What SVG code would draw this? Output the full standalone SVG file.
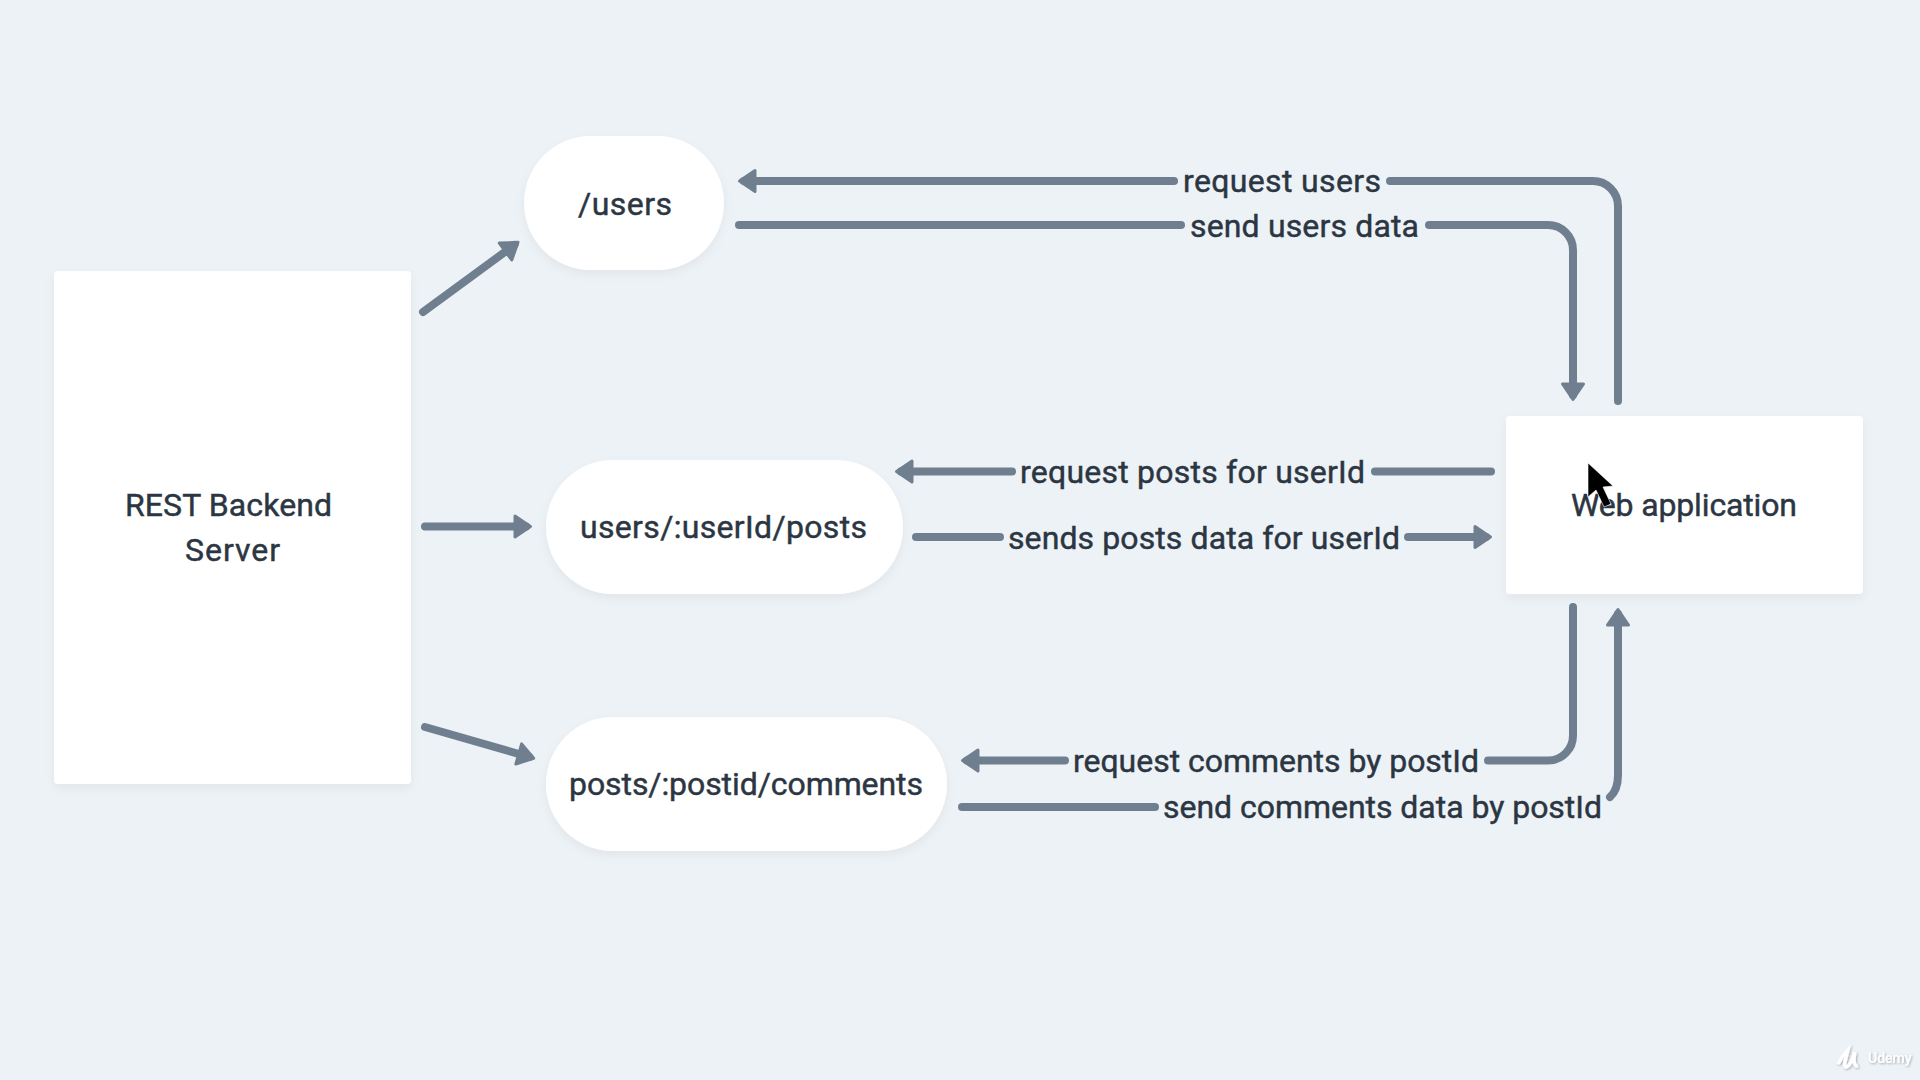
<svg xmlns="http://www.w3.org/2000/svg" width="1920" height="1080" viewBox="0 0 1920 1080">
<defs>
<filter id="sh" x="-10%" y="-10%" width="120%" height="125%"><feDropShadow dx="0" dy="4" stdDeviation="5" flood-color="#000" flood-opacity="0.05"/></filter>
<filter id="ws" x="-20%" y="-30%" width="140%" height="170%"><feDropShadow dx="1" dy="1" stdDeviation="1" flood-color="#000" flood-opacity="0.3"/></filter>
<marker id="ah" markerUnits="userSpaceOnUse" markerWidth="30" markerHeight="28" refX="11" refY="12" orient="auto" overflow="visible"><path d="M0 1.5L15.5 12L0 22.5Z" fill="#707f90" stroke="#707f90" stroke-width="3" stroke-linejoin="round"/></marker>
</defs>
<style>
.n{fill:#fff;filter:url(#sh)}
.t{font-family:Roboto,"Noto Sans",sans-serif;font-size:32px;font-weight:400;fill:#2b3642;stroke:#2b3642;stroke-width:0.45;text-anchor:start}
.c{fill:none;stroke:#707f90;stroke-width:8;stroke-linecap:round}
.a{marker-end:url(#ah)}
</style>
<rect width="1920" height="1080" fill="#edf2f7"/>
<g id="connectors">
<path class="c a" d="M423 312L514.4 245"/>
<path class="c a" d="M425 526.5H526"/>
<path class="c a" d="M425 727L529.3 757"/>
<path class="c a" d="M1174 181H744"/>
<path class="c" d="M1390 181H1593A25 25 0 0 1 1618 206V401"/>
<path class="c" d="M1181 225H739"/>
<path class="c a" d="M1429 225H1548A25 25 0 0 1 1573 250V395"/>
<path class="c a" d="M1012 471.5H901"/>
<path class="c" d="M1375 471.5H1491"/>
<path class="c" d="M1000 537H916"/>
<path class="c a" d="M1408 537H1486"/>
<path class="c" d="M1573 607V735A25 25 0 0 1 1548 760.5H1488"/>
<path class="c a" d="M1065 760.5H967"/>
<path class="c" d="M1155 807H962"/>
<path class="c a" d="M1610 797Q1618 790 1618 775V614"/>
</g>
<g id="rest-server"><rect class="n" x="54" y="271" width="357" height="513" rx="4"/><text class="t" x="125" y="516" textLength="207">REST Backend</text><text class="t" x="185" y="561" textLength="95">Server</text></g>
<g id="users"><rect class="n" x="524" y="136" width="200" height="134" rx="67"/><text class="t" x="578" y="215" textLength="94">/users</text></g>
<g id="user-posts"><rect class="n" x="546" y="460" width="357" height="134" rx="67"/><text class="t" x="580" y="538" textLength="287">users/:userId/posts</text></g>
<g id="post-comments"><rect class="n" x="546" y="717" width="401" height="134" rx="67"/><text class="t" x="569" y="795" textLength="354">posts/:postid/comments</text></g>
<g id="web-app"><rect class="n" x="1506" y="416" width="357" height="178" rx="4"/><text class="t" x="1571" y="516" textLength="226">Web application</text></g>
<g id="labels">
<text class="t" x="1183" y="192" textLength="198">request users</text>
<text class="t" x="1190" y="237" textLength="229">send users data</text>
<text class="t" x="1020" y="483" textLength="345">request posts for userId</text>
<text class="t" x="1008" y="549" textLength="392">sends posts data for userId</text>
<text class="t" x="1073" y="772" textLength="406">request comments by postId</text>
<text class="t" x="1163" y="818" textLength="439">send comments data by postId</text>
</g>
<path id="cursor" d="M1588 463V497L1596 490L1604 507L1611 504L1603 487L1613 486Z" fill="#000" stroke="#fff" stroke-width="0.6"/>
<g id="watermark" fill="#fff" filter="url(#ws)"><path d="M1838 1064C1842 1056 1846 1052 1848 1050C1846 1058 1843 1066 1846 1067C1850 1067 1854 1056 1855 1052C1853 1060 1854 1067 1858 1066" fill="none" stroke="#fff" stroke-width="3.5"/><text x="1868" y="1063" font-family="Roboto,sans-serif" font-size="14" font-weight="500">Udemy</text></g>
</svg>
